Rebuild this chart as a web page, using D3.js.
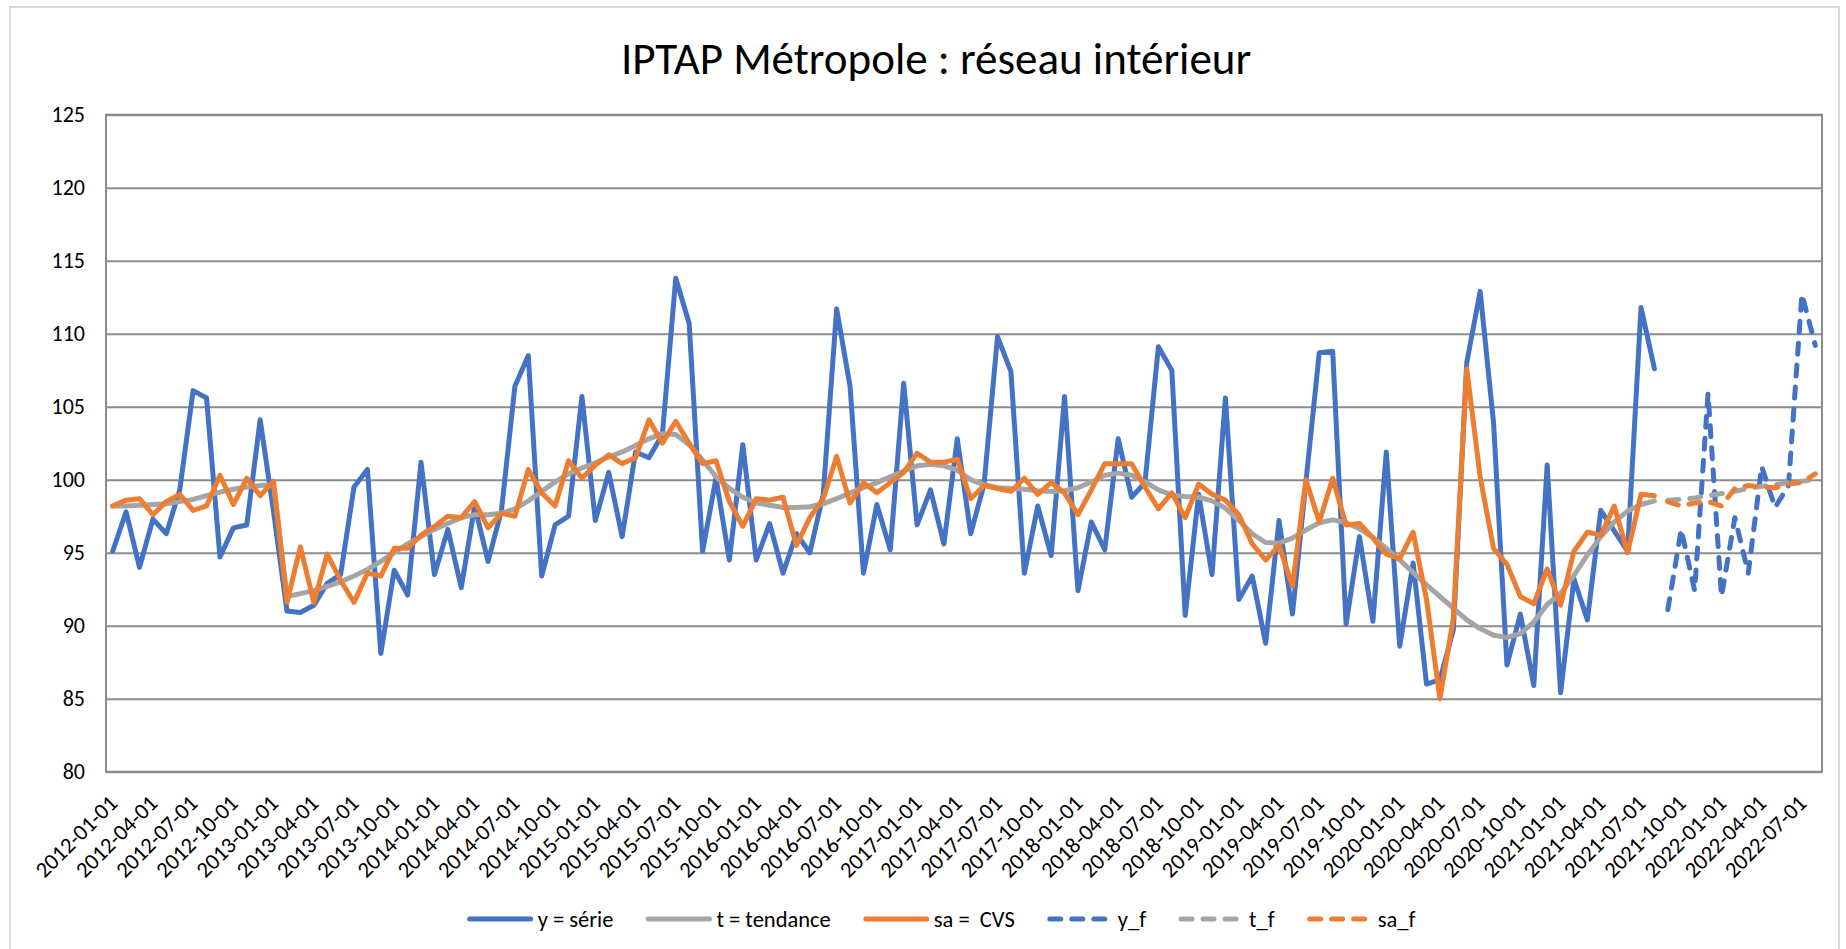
<!DOCTYPE html>
<html>
<head>
<meta charset="utf-8">
<script src="https://cdn.jsdelivr.net/npm/d3@7"></script>
<style>
  body { margin: 0; background: #fff; }
  text { font-family: Carlito, Calibri, Lato, sans-serif; fill: #000; }
</style>
</head>
<body>
<div id="chart"></div>
<script>
// monthly series, first month 2012-01
var firstMonth = "2012-01-01";

var ySerie = [
  95.1, 97.8, 94.0, 97.3, 96.3, 99.3, 106.1, 105.6, 94.7, 96.7, 96.9, 104.1,
  97.8, 91.0, 90.9, 91.4, 92.9, 93.5, 99.5, 100.7, 88.1, 93.8, 92.1, 101.2,
  93.5, 96.6, 92.6, 98.2, 94.4, 97.9, 106.4, 108.5, 93.4, 96.9, 97.5, 105.7,
  97.2, 100.5, 96.1, 101.9, 101.5, 103.1, 113.8, 110.7, 95.1, 100.1, 94.5, 102.4,
  94.5, 97.0, 93.6, 96.3, 95.0, 99.0, 111.7, 106.4, 93.6, 98.3, 95.2, 106.6,
  96.9, 99.3, 95.6, 102.8, 96.3, 99.7, 109.8, 107.4, 93.6, 98.2, 94.8, 105.7,
  92.4, 97.1, 95.2, 102.8, 98.8, 99.8, 109.1, 107.5, 90.7, 99.0, 93.5, 105.6,
  91.8, 93.4, 88.8, 97.2, 90.8, 99.8, 108.7, 108.8, 90.1, 96.1, 90.3, 101.9,
  88.6, 94.3, 86.0, 86.3, 89.7, 108.0, 112.9, 103.9, 87.3, 90.8, 85.9, 101.0,
  85.4, 93.2, 90.4, 97.9, 96.5, 95.1, 111.8, 107.6
];

var tTendance = [
  98.2, 98.2, 98.25, 98.3, 98.35, 98.5, 98.65, 98.9, 99.15, 99.35, 99.5, 99.6,
  99.65, 92.0, 92.2, 92.4, 92.7, 93.0, 93.4, 93.85, 94.4, 95.0, 95.6, 96.1,
  96.6, 97.0, 97.4, 97.6, 97.6, 97.7, 98.0, 98.55, 99.2, 99.85, 100.4, 100.8,
  101.15, 101.55, 101.9, 102.35, 102.8, 103.15, 103.1, 102.4, 101.35, 100.2, 99.4, 98.8,
  98.4, 98.25, 98.1, 98.1, 98.15, 98.35, 98.7, 99.1, 99.45, 99.8, 100.2, 100.6,
  100.95, 101.05, 100.95, 100.65, 100.0, 99.65, 99.45, 99.4, 99.35, 99.25, 99.2, 99.25,
  99.45, 99.85, 100.3, 100.45, 100.3, 99.85, 99.3, 98.95, 98.85, 98.8, 98.55, 98.05,
  97.2, 96.3, 95.7, 95.65, 96.0, 96.55, 97.05, 97.25, 97.05, 96.65, 96.05, 95.3,
  94.5, 93.65, 92.8, 92.0, 91.2, 90.4, 89.8, 89.35, 89.2, 89.45, 90.25, 91.45,
  92.2, 93.45, 94.85, 96.1, 97.1, 97.85, 98.3, 98.55
];

var saCvs = [
  98.2, 98.6, 98.7, 97.6, 98.5, 99.0, 97.9, 98.2, 100.3, 98.3, 100.1, 98.9,
  99.9, 91.6, 95.4, 91.6, 94.9, 93.1, 91.6, 93.6, 93.4, 95.3, 95.3, 96.2,
  96.8, 97.5, 97.4, 98.5, 96.7, 97.7, 97.5, 100.7, 99.1, 98.2, 101.3, 100.1,
  101.0, 101.7, 101.1, 101.5, 104.1, 102.5, 104.0, 102.5, 101.1, 101.3, 98.5, 96.8,
  98.7, 98.6, 98.8, 95.5, 97.4, 98.7, 101.6, 98.4, 99.8, 99.1, 99.8, 100.5,
  101.8, 101.2, 101.2, 101.4, 98.7, 99.6, 99.4, 99.2, 100.1, 99.0, 99.8, 99.1,
  97.6, 99.3, 101.1, 101.1, 101.1, 99.5, 98.0, 99.1, 97.4, 99.7, 99.0, 98.6,
  97.6, 95.6, 94.5, 95.5, 92.7, 100.0, 97.1, 100.1, 96.9, 97.0, 96.0, 94.9,
  94.6, 96.4, 91.8, 85.0, 90.5, 107.6, 100.2, 95.3, 94.2, 92.0, 91.5, 93.9,
  91.4, 95.1, 96.4, 96.2, 98.2, 95.0, 99.0, 98.9
];

// forecasts, first month 2021-09
var yF = [91.1, 96.6, 92.4, 105.9, 92.0, 97.4, 93.6, 100.9, 98.1, 99.6, 112.7, 109.2];
var tF = [98.6, 98.65, 98.75, 98.9, 99.05, 99.2, 99.4, 99.55, 99.65, 99.8, 99.9, 100.0];
var saF = [98.5, 98.2, 98.4, 98.5, 98.2, 99.4, 99.6, 99.5, 99.45, 99.7, 99.8, 100.4];

var yTicks = [80, 85, 90, 95, 100, 105, 110, 115, 120, 125];
var legendNames = ["y = série", "t = tendance", "sa = \u00a0CVS", "y_f", "t_f", "sa_f"];

var svgWidth = 1846;
var svgHeight = 949;
var margin = { top: 114.7, right: 24, bottom: 177.3, left: 106 };
var width = svgWidth - margin.left - margin.right;
var height = svgHeight - margin.top - margin.bottom;

var svg = d3.select("#chart")
  .append("svg")
  .attr("width", svgWidth)
  .attr("height", svgHeight);

// chart area border
svg.append("rect")
  .attr("x", 10).attr("y", 7)
  .attr("width", 1829).attr("height", 950)
  .attr("fill", "none")
  .attr("stroke", "#d9d9d9")
  .attr("stroke-width", 2);

svg.append("text")
  .attr("x", 936).attr("y", 74)
  .attr("text-anchor", "middle")
  .attr("font-size", 45)
  .text("IPTAP Métropole : réseau intérieur");

var chartGroup = svg.append("g")
  .attr("transform", `translate(${margin.left}, ${margin.top})`);

// month categories
var fmt = d3.timeFormat("%Y-%m-%d");
var start = d3.timeParse("%Y-%m-%d")(firstMonth);
var nMonths = ySerie.length + yF.length;
var months = d3.timeMonth.range(start, d3.timeMonth.offset(start, nMonths)).map(fmt);

var x = d3.scaleBand().domain(months).range([0, width]);
var y = d3.scaleLinear().domain([80, 125]).range([height, 0]);

// gridlines
chartGroup.append("g")
  .call(d3.axisLeft(y).tickValues(yTicks).tickSize(-width).tickFormat(""))
  .call(g => g.select(".domain").remove())
  .selectAll("line")
  .attr("stroke", "#8c8c8c")
  .attr("stroke-width", 2);

// plot frame
chartGroup.append("rect")
  .attr("width", width).attr("height", height)
  .attr("fill", "none")
  .attr("stroke", "#8c8c8c")
  .attr("stroke-width", 2);

// y axis labels
chartGroup.append("g")
  .call(d3.axisLeft(y).tickValues(yTicks).tickSize(0).tickPadding(21))
  .call(g => g.select(".domain").remove())
  .attr("font-size", 22)
  .attr("font-family", null);

// x axis labels every 3 months, rotated
chartGroup.append("g")
  .attr("transform", `translate(0, ${height})`)
  .call(d3.axisBottom(x).tickValues(months.filter((d, i) => i % 3 === 0)).tickSize(0))
  .call(g => g.select(".domain").remove())
  .attr("font-size", 22.5)
  .attr("font-family", null)
  .selectAll("text")
  .attr("x", 0).attr("y", 0).attr("dy", 0)
  .attr("text-anchor", "end")
  .attr("transform", "translate(6, 33) rotate(-45)");

var series = [
  { values: ySerie, offset: 0, color: "#4472c4", dash: null },
  { values: tTendance, offset: 0, color: "#a5a5a5", dash: null },
  { values: saCvs, offset: 0, color: "#ed7d31", dash: null },
  { values: yF, offset: ySerie.length, color: "#4472c4", dash: "11,11" },
  { values: tF, offset: ySerie.length, color: "#a5a5a5", dash: "11,11" },
  { values: saF, offset: ySerie.length, color: "#ed7d31", dash: "11,11" }
];

var line = d3.line()
  .x(d => x(d.m) + x.bandwidth() / 2)
  .y(d => y(d.v));

series.forEach(function(s) {
  var pts = s.values.map((v, i) => ({ m: months[s.offset + i], v: v }));
  chartGroup.append("path")
    .datum(pts)
    .attr("d", line)
    .attr("fill", "none")
    .attr("stroke", s.color)
    .attr("stroke-width", 5)
    .attr("stroke-linejoin", "round")
    .attr("stroke-linecap", "round")
    .attr("stroke-dasharray", s.dash);
});

// legend, laid out left to right then centred
var legend = svg.append("g").attr("transform", "translate(0, 919)");
var cursor = 0;
series.forEach(function(s, i) {
  var item = legend.append("g").attr("transform", `translate(${cursor}, 0)`);
  item.append("line")
    .attr("x1", 3).attr("x2", 64)
    .attr("stroke", s.color)
    .attr("stroke-width", 5)
    .attr("stroke-linecap", "round")
    .attr("stroke-dasharray", s.dash);
  var t = item.append("text")
    .attr("x", 71).attr("dy", "0.35em")
    .attr("font-size", 22.5)
    .style("white-space", "pre")
    .text(legendNames[i]);
  cursor += 71 + t.node().getComputedTextLength() + 32;
});
legend.attr("transform", `translate(${941 - (cursor - 32) / 2}, 919)`);
</script>
</body>
</html>
